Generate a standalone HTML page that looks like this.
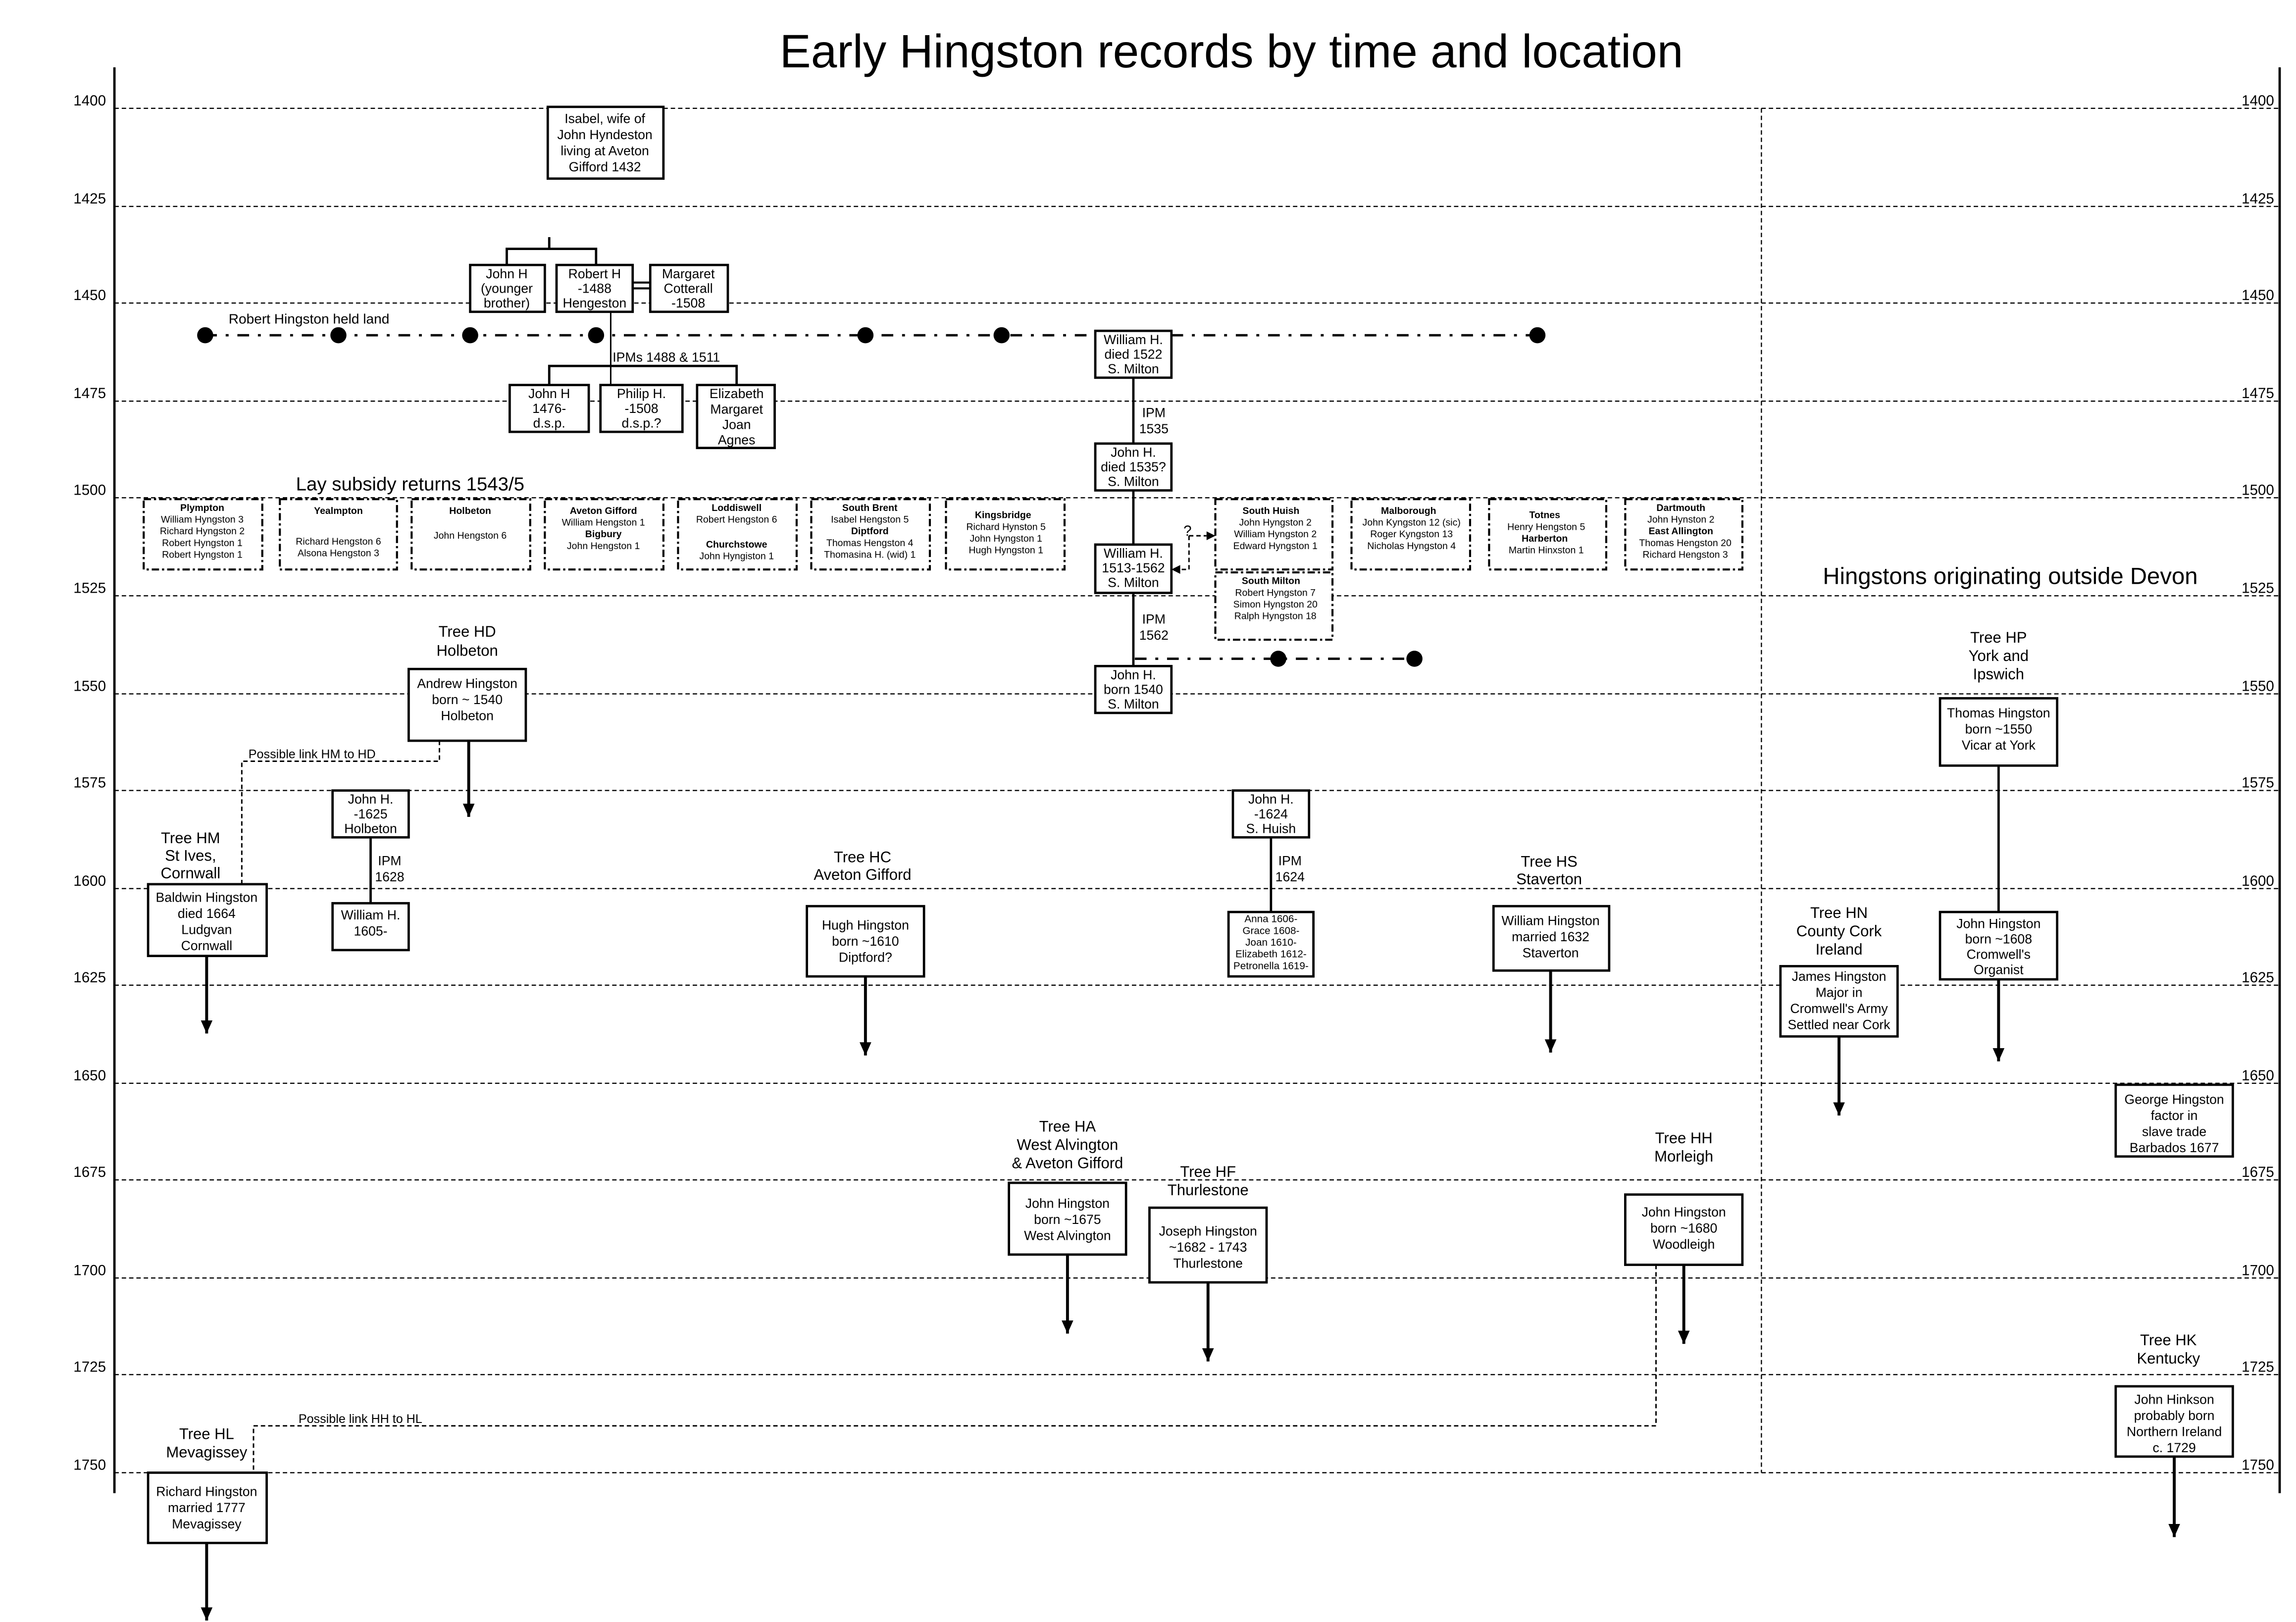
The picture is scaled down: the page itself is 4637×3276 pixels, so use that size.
<!DOCTYPE html>
<html><head><meta charset="utf-8"><style>
html,body{margin:0;padding:0;background:#fff}
svg{display:block}
text{font-family:"Liberation Sans",Arial,sans-serif;fill:#000}
.b{fill:#fff;stroke:#000;stroke-width:1.6}
.d{fill:#fff;stroke:#000;stroke-width:1.4;stroke-dasharray:5 2 1.5 2}
.t{font-size:9px;text-anchor:middle}
.s{font-size:6.6px;text-anchor:middle}
.sb{font-size:6.6px;text-anchor:middle;font-weight:bold}
.l{font-size:10.5px;text-anchor:middle}
.y{font-size:10px}
.g{stroke:#000;stroke-width:0.8;stroke-dasharray:3 2;fill:none}
.ln{stroke:#000;stroke-width:1.6;fill:none}
.ar{stroke:#000;stroke-width:2;fill:none}
.dd{stroke:#000;stroke-width:1.6;stroke-dasharray:8 6 2 6;fill:none}
.lk{stroke:#000;stroke-width:1;stroke-dasharray:3 2;fill:none}
</style></head><body>
<svg width="4637" height="3276" viewBox="0 0 1568 1108" xmlns="http://www.w3.org/2000/svg">
<defs><marker id="ah" markerWidth="10" markerHeight="10" refX="9" refY="4" orient="auto" markerUnits="userSpaceOnUse"><path d="M0,0 L9,4 L0,8 z" fill="#000"/></marker></defs>
<rect width="1568" height="1108" fill="#fff"/>
<text x="841" y="46" style="font-size:32px;text-anchor:middle">Early Hingston records by time and location</text>
<line x1="78" y1="46" x2="78" y2="1020" class="ln"/>
<line x1="1557" y1="46" x2="1557" y2="1020" class="ln"/>
<line x1="1203" y1="74" x2="1203" y2="1006" class="g"/>
<g class="g">
<line x1="78" y1="74" x2="1557" y2="74"/><line x1="78" y1="141" x2="1557" y2="141"/><line x1="78" y1="207" x2="1557" y2="207"/><line x1="78" y1="274" x2="1557" y2="274"/><line x1="78" y1="340" x2="1557" y2="340"/><line x1="78" y1="407" x2="1557" y2="407"/><line x1="78" y1="474" x2="1557" y2="474"/><line x1="78" y1="540" x2="1557" y2="540"/><line x1="78" y1="607" x2="1557" y2="607"/><line x1="78" y1="673" x2="1557" y2="673"/><line x1="78" y1="740" x2="1557" y2="740"/><line x1="78" y1="806" x2="1557" y2="806"/><line x1="78" y1="873" x2="1557" y2="873"/><line x1="78" y1="939" x2="1557" y2="939"/><line x1="78" y1="1006" x2="1557" y2="1006"/>
</g>
<g class="y">
<text x="50" y="72">1400</text><text x="50" y="139">1425</text><text x="50" y="205">1450</text><text x="50" y="272">1475</text><text x="50" y="338">1500</text><text x="50" y="405">1525</text><text x="50" y="472">1550</text><text x="50" y="538">1575</text><text x="50" y="605">1600</text><text x="50" y="671">1625</text><text x="50" y="738">1650</text><text x="50" y="804">1675</text><text x="50" y="871">1700</text><text x="50" y="937">1725</text><text x="50" y="1004">1750</text>
<text x="1531" y="72">1400</text><text x="1531" y="139">1425</text><text x="1531" y="205">1450</text><text x="1531" y="272">1475</text><text x="1531" y="338">1500</text><text x="1531" y="405">1525</text><text x="1531" y="472">1550</text><text x="1531" y="538">1575</text><text x="1531" y="605">1600</text><text x="1531" y="671">1625</text><text x="1531" y="738">1650</text><text x="1531" y="804">1675</text><text x="1531" y="871">1700</text><text x="1531" y="937">1725</text><text x="1531" y="1004">1750</text>
</g>
<line x1="140" y1="229" x2="1050" y2="229" class="dd"/>
<g fill="#000"><circle cx="140" cy="229" r="5.5"/><circle cx="231" cy="229" r="5.5"/><circle cx="321" cy="229" r="5.5"/><circle cx="407" cy="229" r="5.5"/><circle cx="591" cy="229" r="5.5"/><circle cx="684" cy="229" r="5.5"/><circle cx="1050" cy="229" r="5.5"/><circle cx="873" cy="450" r="5.5"/><circle cx="966" cy="450" r="5.5"/></g>
<line x1="775" y1="450" x2="966" y2="450" class="dd"/>
<text x="156" y="221" style="font-size:9.5px">Robert Hingston held land</text>
<rect x="374" y="73" width="79" height="49" class="b"/>
<text class="t" y="84"><tspan x="413">Isabel, wife of</tspan><tspan x="413" dy="11">John Hyndeston</tspan><tspan x="413" dy="11">living at Aveton</tspan><tspan x="413" dy="11">Gifford 1432</tspan></text>
<path d="M375,162 V170 M346,181 V170 H407 V181" class="ln"/>
<line x1="417" y1="195" x2="417" y2="263" class="ln" style="stroke-width:1"/>
<path d="M375,263 V250 H503 V263" class="ln"/>
<path d="M432,193 H444 M432,197 H444" class="ln" style="stroke-width:1.4"/>
<rect x="321" y="181" width="51" height="32" class="b"/>
<text class="t" y="190"><tspan x="346">John H</tspan><tspan x="346" dy="10">(younger</tspan><tspan x="346" dy="10">brother)</tspan></text>
<rect x="380" y="181" width="52" height="32" class="b"/>
<text class="t" y="190"><tspan x="406">Robert H</tspan><tspan x="406" dy="10">-1488</tspan><tspan x="406" dy="10">Hengeston</tspan></text>
<rect x="444" y="181" width="53" height="32" class="b"/>
<text class="t" y="190"><tspan x="470">Margaret</tspan><tspan x="470" dy="10">Cotterall</tspan><tspan x="470" dy="10">-1508</tspan></text>
<text x="455" y="247" class="t">IPMs 1488 &amp; 1511</text>
<rect x="348" y="263" width="54" height="32" class="b"/>
<text class="t" y="272"><tspan x="375">John H</tspan><tspan x="375" dy="10">1476-</tspan><tspan x="375" dy="10">d.s.p.</tspan></text>
<rect x="410" y="263" width="56" height="32" class="b"/>
<text class="t" y="272"><tspan x="438">Philip  H.</tspan><tspan x="438" dy="10">-1508</tspan><tspan x="438" dy="10">d.s.p.?</tspan></text>
<rect x="476" y="263" width="53" height="43" class="b"/>
<text class="t" y="272"><tspan x="503">Elizabeth</tspan><tspan x="503" dy="10.5">Margaret</tspan><tspan x="503" dy="10.5">Joan</tspan><tspan x="503" dy="10.5">Agnes</tspan></text>
<line x1="774" y1="258" x2="774" y2="455" class="ln"/>
<rect x="748" y="226" width="52" height="32" class="b"/>
<text class="t" y="235"><tspan x="774">William H.</tspan><tspan x="774" dy="10">died 1522</tspan><tspan x="774" dy="10">S. Milton</tspan></text>
<text class="t" y="285"><tspan x="788">IPM</tspan><tspan x="788" dy="11">1535</tspan></text>
<rect x="748" y="303" width="52" height="32" class="b"/>
<text class="t" y="312"><tspan x="774">John H.</tspan><tspan x="774" dy="10">died  1535?</tspan><tspan x="774" dy="10">S. Milton</tspan></text>
<rect x="748" y="372" width="52" height="33" class="b"/>
<text class="t" y="381"><tspan x="774">William H.</tspan><tspan x="774" dy="10">1513-1562</tspan><tspan x="774" dy="10">S. Milton</tspan></text>
<text class="t" y="426"><tspan x="788">IPM</tspan><tspan x="788" dy="11">1562</tspan></text>
<rect x="748" y="455" width="52" height="32" class="b"/>
<text class="t" y="464"><tspan x="774">John H.</tspan><tspan x="774" dy="10">born 1540</tspan><tspan x="774" dy="10">S. Milton</tspan></text>
<text x="280" y="335" style="font-size:13px;text-anchor:middle">Lay subsidy returns 1543/5</text>
<rect x="98" y="341" width="81" height="48" class="d"/>
<text y="349"><tspan x="138" class="sb">Plympton</tspan><tspan x="138" dy="8" class="s">William Hyngston 3</tspan><tspan x="138" dy="8" class="s">Richard Hyngston 2</tspan><tspan x="138" dy="8" class="s">Robert Hyngston 1</tspan><tspan x="138" dy="8" class="s">Robert Hyngston 1</tspan></text>
<rect x="191" y="341" width="80" height="48" class="d"/>
<text y="351"><tspan x="231" class="sb">Yealmpton</tspan><tspan x="231" dy="21" class="s">Richard Hengston 6</tspan><tspan x="231" dy="8" class="s">Alsona Hengston 3</tspan></text>
<rect x="281" y="341" width="81" height="48" class="d"/>
<text y="351"><tspan x="321" class="sb">Holbeton</tspan><tspan x="321" dy="17" class="s">John Hengston 6</tspan></text>
<rect x="372" y="341" width="81" height="48" class="d"/>
<text y="351"><tspan x="412" class="sb">Aveton Gifford</tspan><tspan x="412" dy="8" class="s">William Hengston 1</tspan><tspan x="412" dy="8" class="sb">Bigbury</tspan><tspan x="412" dy="8" class="s">John Hengston 1</tspan></text>
<rect x="463" y="341" width="81" height="48" class="d"/>
<text y="349"><tspan x="503" class="sb">Loddiswell</tspan><tspan x="503" dy="8" class="s">Robert Hengston 6</tspan><tspan x="503" dy="17" class="sb">Churchstowe</tspan><tspan x="503" dy="8" class="s">John Hyngiston 1</tspan></text>
<rect x="554" y="341" width="81" height="48" class="d"/>
<text y="349"><tspan x="594" class="sb">South Brent</tspan><tspan x="594" dy="8" class="s">Isabel Hengston 5</tspan><tspan x="594" dy="8" class="sb">Diptford</tspan><tspan x="594" dy="8" class="s">Thomas Hengston 4</tspan><tspan x="594" dy="8" class="s">Thomasina H. (wid) 1</tspan></text>
<rect x="646" y="341" width="81" height="48" class="d"/>
<text y="354"><tspan x="685" class="sb">Kingsbridge</tspan><tspan x="687" dy="8" class="s">Richard Hynston 5</tspan><tspan x="687" dy="8" class="s">John Hyngston 1</tspan><tspan x="687" dy="8" class="s">Hugh Hyngston 1</tspan></text>
<rect x="830" y="341" width="80" height="48" class="d"/>
<rect x="830" y="391" width="80" height="46" class="d"/>
<text y="351"><tspan x="868" class="sb">South Huish</tspan><tspan x="871" dy="8" class="s">John Hyngston 2</tspan><tspan x="871" dy="8" class="s">William Hyngston 2</tspan><tspan x="871" dy="8" class="s">Edward Hyngston 1</tspan></text>
<text y="399"><tspan x="868" class="sb">South Milton</tspan><tspan x="871" dy="8" class="s">Robert Hyngston 7</tspan><tspan x="871" dy="8" class="s">Simon Hyngston 20</tspan><tspan x="871" dy="8" class="s">Ralph Hyngston 18</tspan></text>
<rect x="923" y="341" width="81" height="48" class="d"/>
<text y="351"><tspan x="962" class="sb">Malborough</tspan><tspan x="964" dy="8" class="s">John Kyngston 12 (sic)</tspan><tspan x="964" dy="8" class="s">Roger Kyngston 13</tspan><tspan x="964" dy="8" class="s">Nicholas Hyngston 4</tspan></text>
<rect x="1017" y="341" width="80" height="48" class="d"/>
<text y="354"><tspan x="1055" class="sb">Totnes</tspan><tspan x="1056" dy="8" class="s">Henry Hengston 5</tspan><tspan x="1055" dy="8" class="sb">Harberton</tspan><tspan x="1056" dy="8" class="s">Martin Hinxston 1</tspan></text>
<rect x="1110" y="341" width="80" height="48" class="d"/>
<text y="349"><tspan x="1148" class="sb">Dartmouth</tspan><tspan x="1148" dy="8" class="s">John Hynston 2</tspan><tspan x="1148" dy="8" class="sb">East Allington</tspan><tspan x="1151" dy="8" class="s">Thomas Hengston 20</tspan><tspan x="1151" dy="8" class="s">Richard Hengston 3</tspan></text>
<text x="811" y="366" style="font-size:10px;text-anchor:middle">?</text>
<path d="M812,366 V389 H806" class="lk"/><path d="M800,389 L806,386 L806,392 z"/>
<path d="M812,366 H824" class="lk"/><path d="M830,366 L824,363 L824,369 z"/>
<text x="1373" y="399" style="font-size:16px;text-anchor:middle">Hingstons originating outside Devon</text>
<text class="l" y="435"><tspan x="319">Tree HD</tspan><tspan x="319" dy="13">Holbeton</tspan></text>
<rect x="279" y="457" width="80" height="49" class="b"/>
<text class="t" y="470"><tspan x="319">Andrew Hingston</tspan><tspan x="319" dy="11">born ~ 1540</tspan><tspan x="319" dy="11">Holbeton</tspan></text>
<line x1="320" y1="506" x2="320" y2="558" class="ar" marker-end="url(#ah)"/>
<path d="M300,506 V520 H165 V604" class="lk"/>
<text x="213" y="518" style="font-size:8.5px;text-anchor:middle">Possible link HM to HD</text>
<rect x="227" y="540" width="52" height="32" class="b"/>
<text class="t" y="549"><tspan x="253">John H.</tspan><tspan x="253" dy="10">-1625</tspan><tspan x="253" dy="10">Holbeton</tspan></text>
<line x1="253" y1="572" x2="253" y2="617" class="ln"/>
<text class="t" y="591"><tspan x="266">IPM</tspan><tspan x="266" dy="11">1628</tspan></text>
<rect x="227" y="617" width="52" height="32" class="b"/>
<text class="t" y="628"><tspan x="253">William H.</tspan><tspan x="253" dy="11">1605-</tspan></text>
<text class="l" y="576"><tspan x="130">Tree HM</tspan><tspan x="130" dy="12">St Ives,</tspan><tspan x="130" dy="12">Cornwall</tspan></text>
<rect x="101" y="604" width="81" height="49" class="b"/>
<text class="t" y="616"><tspan x="141">Baldwin Hingston</tspan><tspan x="141" dy="11">died 1664</tspan><tspan x="141" dy="11">Ludgvan</tspan><tspan x="141" dy="11">Cornwall</tspan></text>
<line x1="141" y1="653" x2="141" y2="706" class="ar" marker-end="url(#ah)"/>
<text class="l" y="589"><tspan x="589">Tree HC</tspan><tspan x="589" dy="12">Aveton Gifford</tspan></text>
<rect x="551" y="619" width="80" height="48" class="b"/>
<text class="t" y="635"><tspan x="591">Hugh Hingston</tspan><tspan x="591" dy="11">born ~1610</tspan><tspan x="591" dy="11">Diptford?</tspan></text>
<line x1="591" y1="667" x2="591" y2="721" class="ar" marker-end="url(#ah)"/>
<rect x="842" y="540" width="52" height="32" class="b"/>
<text class="t" y="549"><tspan x="868">John H.</tspan><tspan x="868" dy="10">-1624</tspan><tspan x="868" dy="10">S. Huish</tspan></text>
<line x1="868" y1="572" x2="868" y2="623" class="ln"/>
<text class="t" y="591"><tspan x="881">IPM</tspan><tspan x="881" dy="11">1624</tspan></text>
<rect x="839" y="623" width="58" height="44" class="b"/>
<text y="630" style="font-size:7px;text-anchor:middle"><tspan x="868">Anna 1606-</tspan><tspan x="868" dy="8">Grace 1608-</tspan><tspan x="868" dy="8">Joan 1610-</tspan><tspan x="868" dy="8">Elizabeth 1612-</tspan><tspan x="868" dy="8">Petronella 1619-</tspan></text>
<text class="l" y="592"><tspan x="1058">Tree HS</tspan><tspan x="1058" dy="12">Staverton</tspan></text>
<rect x="1020" y="619" width="79" height="44" class="b"/>
<text class="t" y="632"><tspan x="1059">William Hingston</tspan><tspan x="1059" dy="11">married 1632</tspan><tspan x="1059" dy="11">Staverton</tspan></text>
<line x1="1059" y1="663" x2="1059" y2="719" class="ar" marker-end="url(#ah)"/>
<text class="l" y="627"><tspan x="1256">Tree HN</tspan><tspan x="1256" dy="12.5">County Cork</tspan><tspan x="1256" dy="12.5">Ireland</tspan></text>
<rect x="1216" y="660" width="80" height="48" class="b"/>
<text class="t" y="670"><tspan x="1256">James Hingston</tspan><tspan x="1256" dy="11">Major in</tspan><tspan x="1256" dy="11">Cromwell's Army</tspan><tspan x="1256" dy="11">Settled near Cork</tspan></text>
<line x1="1256" y1="708" x2="1256" y2="762" class="ar" marker-end="url(#ah)"/>
<text class="l" y="439"><tspan x="1365">Tree HP</tspan><tspan x="1365" dy="12.5">York and</tspan><tspan x="1365" dy="12.5">Ipswich</tspan></text>
<rect x="1325" y="477" width="80" height="46" class="b"/>
<text class="t" y="490"><tspan x="1365">Thomas Hingston</tspan><tspan x="1365" dy="11">born ~1550</tspan><tspan x="1365" dy="11">Vicar at York</tspan></text>
<line x1="1365" y1="523" x2="1365" y2="623" class="ln"/>
<rect x="1325" y="623" width="80" height="46" class="b"/>
<text class="t" y="634"><tspan x="1365">John Hingston</tspan><tspan x="1365" dy="10.5">born ~1608</tspan><tspan x="1365" dy="10.5">Cromwell's</tspan><tspan x="1365" dy="10.5">Organist</tspan></text>
<line x1="1365" y1="669" x2="1365" y2="725" class="ar" marker-end="url(#ah)"/>
<rect x="1445" y="741" width="80" height="49" class="b"/>
<text class="t" y="754"><tspan x="1485">George Hingston</tspan><tspan x="1485" dy="11">factor in</tspan><tspan x="1485" dy="11">slave trade</tspan><tspan x="1485" dy="11">Barbados 1677</tspan></text>
<text class="l" y="773"><tspan x="729">Tree HA</tspan><tspan x="729" dy="12.5">West Alvington</tspan><tspan x="729" dy="12.5">&amp; Aveton Gifford</tspan></text>
<rect x="689" y="808" width="80" height="49" class="b"/>
<text class="t" y="825"><tspan x="729">John Hingston</tspan><tspan x="729" dy="11">born ~1675</tspan><tspan x="729" dy="11">West Alvington</tspan></text>
<line x1="729" y1="857" x2="729" y2="911" class="ar" marker-end="url(#ah)"/>
<text class="l" y="804"><tspan x="825">Tree HF</tspan><tspan x="825" dy="12.5">Thurlestone</tspan></text>
<rect x="785" y="825" width="80" height="51" class="b"/>
<text class="t" y="844"><tspan x="825">Joseph Hingston</tspan><tspan x="825" dy="11">~1682 - 1743</tspan><tspan x="825" dy="11">Thurlestone</tspan></text>
<line x1="825" y1="876" x2="825" y2="930" class="ar" marker-end="url(#ah)"/>
<text class="l" y="781"><tspan x="1150">Tree HH</tspan><tspan x="1150" dy="12.5">Morleigh</tspan></text>
<rect x="1110" y="816" width="80" height="48" class="b"/>
<text class="t" y="831"><tspan x="1150">John Hingston</tspan><tspan x="1150" dy="11">born ~1680</tspan><tspan x="1150" dy="11">Woodleigh</tspan></text>
<line x1="1150" y1="864" x2="1150" y2="918" class="ar" marker-end="url(#ah)"/>
<path d="M1131,864 V974 H173 V1006" class="lk"/>
<text x="246" y="972" style="font-size:8.5px;text-anchor:middle">Possible link HH to HL</text>
<text class="l" y="919"><tspan x="1481">Tree HK</tspan><tspan x="1481" dy="12.5">Kentucky</tspan></text>
<rect x="1445" y="947" width="80" height="48" class="b"/>
<text class="t" y="959"><tspan x="1485">John Hinkson</tspan><tspan x="1485" dy="11">probably born</tspan><tspan x="1485" dy="11">Northern Ireland</tspan><tspan x="1485" dy="11">c. 1729</tspan></text>
<line x1="1485" y1="995" x2="1485" y2="1050" class="ar" marker-end="url(#ah)"/>
<text class="l" y="983"><tspan x="141">Tree HL</tspan><tspan x="141" dy="12.5">Mevagissey</tspan></text>
<rect x="101" y="1006" width="81" height="48" class="b"/>
<text class="t" y="1022"><tspan x="141">Richard Hingston</tspan><tspan x="141" dy="11">married 1777</tspan><tspan x="141" dy="11">Mevagissey</tspan></text>
<line x1="141" y1="1054" x2="141" y2="1107" class="ar" marker-end="url(#ah)"/>
</svg>
</body></html>
